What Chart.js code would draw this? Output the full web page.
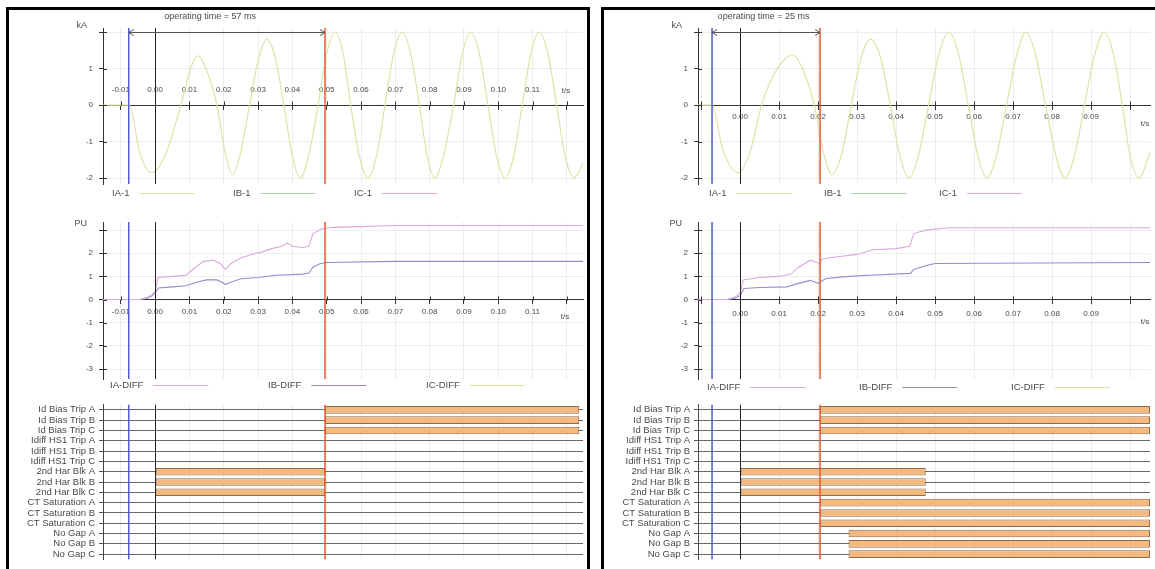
<!DOCTYPE html>
<html><head><meta charset="utf-8">
<script src="https://cdn.jsdelivr.net/npm/chart.js@4.4.0/dist/chart.umd.min.js"></script>
<style>
html,body{margin:0;padding:0;background:#fff;}
body{width:1155px;height:569px;position:relative;overflow:hidden;}
.panel{position:absolute;border:3px solid #000;box-sizing:border-box;}
canvas{position:absolute;}
</style></head><body>
<div class="panel" style="left:6px;top:7px;width:584px;height:620px;"></div>
<div class="panel" style="left:601px;top:7px;width:620px;height:620px;"></div>
<canvas id="lw" width="577" height="195" style="left:9px;top:10px"></canvas>
<canvas id="ld" width="577" height="190" style="left:9px;top:205px"></canvas>
<canvas id="lb" width="577" height="174" style="left:9px;top:395px"></canvas>
<canvas id="rw" width="551" height="195" style="left:604px;top:10px"></canvas>
<canvas id="rd" width="551" height="190" style="left:604px;top:205px"></canvas>
<canvas id="rb" width="551" height="174" style="left:604px;top:395px"></canvas>
<script>
// ---------------- DATA ----------------
const leftTitle = 'operating time = 57 ms';
const rightTitle = 'operating time = 25 ms';
const leftRange = [-0.0152, 0.1247];
const rightRange = [-0.0108, 0.1051];
const leftMarkers = [-0.0077, 0.0, 0.0495];   // fault start, t=0, trip
const rightMarkers = [-0.0072, 0.0, 0.0205];
const markerColors = ['#4f5ad6', '#222222', '#e35a34'];

const waveLabels = ['IA-1', 'IB-1', 'IC-1'];
const diffLabels = ['IA-DIFF', 'IB-DIFF', 'IC-DIFF'];

// left panel, IA-1 (kA)
const leftWaveTime = [-0.0152,-0.0075,-0.0045,-0.001,0.003,0.0075,0.0105,0.0125,0.0148,0.018,0.0205,0.0225,0.0248,0.0275,0.0302,0.0326,0.035,0.0375,0.040,0.0423,0.0447,0.0475,0.050,0.0525,0.0548,0.057,0.0595,0.062,0.0645,0.067,0.0695,0.072,0.0745,0.077,0.0793,0.0815,0.084,0.087,0.0895,0.092,0.0945,0.097,0.0995,0.102,0.1045,0.107,0.1095,0.112,0.1145,0.117,0.1195,0.122,0.1247];
const leftWaveIA   = [0,0,-1.3,-1.85,-1.35,0,1.05,1.35,1.0,0,-1.35,-1.9,-1.35,0,1.3,1.8,1.3,0,-1.4,-2.0,-1.4,0,1.4,2.0,1.4,0,-1.4,-2.0,-1.4,0,1.4,2.0,1.4,0,-1.4,-2.0,-1.4,0,1.4,2.0,1.4,0,-1.4,-2.0,-1.4,0,1.4,2.0,1.4,0,-1.4,-2.0,-1.6];
// right panel, IA-1 (kA)
const rightWaveTime = [-0.0108,-0.0072,-0.0045,-0.0005,0.0025,0.0055,0.009,0.0135,0.016,0.019,0.0215,0.0235,0.026,0.0285,0.031,0.0335,0.036,0.0385,0.041,0.0433,0.0457,0.0483,0.051,0.0535,0.056,0.0585,0.061,0.0633,0.0657,0.0683,0.071,0.0733,0.0757,0.0783,0.081,0.0833,0.0857,0.0883,0.091,0.0933,0.0957,0.098,0.1,0.1023,0.1051];
const rightWaveIA   = [0,0,-1.2,-1.85,-1.3,0,0.9,1.37,1.0,0,-1.35,-1.9,-1.35,0,1.3,1.8,1.3,0,-1.4,-2.0,-1.4,0,1.4,2.0,1.4,0,-1.4,-2.0,-1.4,0,1.4,2.0,1.4,0,-1.4,-2.0,-1.4,0,1.4,2.0,1.4,0,-1.4,-2.0,-1.3];

// left panel differential currents (PU)
const leftDiffTimeA = [-0.0152,-0.0045,-0.0025,-0.001,0.0,0.0008,0.005,0.009,0.011,0.014,0.017,0.019,0.0205,0.022,0.025,0.028,0.031,0.034,0.037,0.0385,0.040,0.043,0.0448,0.046,0.0485,0.052,0.06,0.07,0.1247];
const leftDiffIA    = [0,0,0.08,0.2,0.35,0.95,1.0,1.05,1.3,1.65,1.7,1.55,1.3,1.55,1.8,1.95,2.05,2.2,2.3,2.45,2.3,2.25,2.3,2.85,3.05,3.12,3.15,3.2,3.2];
const leftDiffTimeB = [-0.0152,-0.0045,-0.0025,-0.001,0.0,0.001,0.005,0.009,0.012,0.015,0.018,0.0195,0.0205,0.022,0.025,0.03,0.035,0.043,0.0448,0.046,0.048,0.05,0.07,0.1247];
const leftDiffIB    = [0,0,0.05,0.15,0.3,0.5,0.55,0.6,0.75,0.85,0.85,0.75,0.65,0.75,0.9,0.95,1.05,1.1,1.15,1.4,1.55,1.6,1.65,1.65];
// right panel differential currents (PU)
const rightDiffTimeA = [-0.0108,-0.0033,-0.0015,0.0,0.0008,0.005,0.01,0.013,0.015,0.018,0.0205,0.021,0.025,0.03,0.034,0.04,0.0435,0.0445,0.0476,0.054,0.1051];
const rightDiffIA    = [0,0,0.1,0.28,0.85,0.95,1.0,1.1,1.4,1.7,1.55,1.75,1.85,1.95,2.15,2.2,2.3,2.85,3.0,3.1,3.1];
const rightDiffTimeB = [-0.0108,-0.0033,-0.0015,0.0,0.001,0.005,0.012,0.015,0.018,0.02,0.022,0.028,0.033,0.0437,0.0445,0.048,0.05,0.1051];
const rightDiffIB    = [0,0,0.05,0.17,0.48,0.52,0.55,0.7,0.83,0.7,0.91,1.0,1.05,1.13,1.3,1.48,1.56,1.6];

// binary channels
const digitalLabels = ['Id Bias Trip A','Id Bias Trip B','Id Bias Trip C','Idiff HS1 Trip A','Idiff HS1 Trip B','Idiff HS1 Trip C','2nd Har Blk A','2nd Har Blk B','2nd Har Blk C','CT Saturation A','CT Saturation B','CT Saturation C','No Gap A','No Gap B','No Gap C'];
const leftDigital = [[0.0495,0.1236],[0.0495,0.1236],[0.0495,0.1236],null,null,null,[0.0,0.0495],[0.0,0.0495],[0.0,0.0495],null,null,null,null,null,null];
const rightDigital = [[0.0205,0.1051],[0.0205,0.1051],[0.0205,0.1051],null,null,null,[0.0,0.0476],[0.0,0.0476],[0.0,0.0476],[0.0205,0.1051],[0.0205,0.1051],[0.0205,0.1051],[0.0278,0.1051],[0.0278,0.1051],[0.0278,0.1051]];

const waveColors = ['#e2dea2', '#9fd0aa', '#e8a6cc'];
const diffColors = ['#dca8dc', '#8f8fcf', '#e4e09a'];

// ---------------- RENDER ----------------
const FONT = '"Liberation Sans", Arial, sans-serif';
Chart.defaults.font.family = FONT;
const TXT = '#4a4a4a';

const overlay = {
  id: 'overlay',
  afterDraw(chart, args, o) {
    const ctx = chart.ctx, a = chart.chartArea, xs = chart.scales.x, ys = chart.scales.y;
    ctx.save();
    ctx.lineWidth = 1;
    if (o.cross) {
      const ay = Math.round(ys.getPixelForValue(0)) + 0.5;
      ctx.strokeStyle = '#333';
      xs.ticks.forEach(t => {
        const px = Math.round(xs.getPixelForValue(t.value)) + 0.5;
        ctx.beginPath(); ctx.moveTo(px, ay - 4); ctx.lineTo(px, ay); ctx.stroke();
      });
      ys.ticks.forEach(t => {
        const py = Math.round(ys.getPixelForValue(t.value)) + 0.5;
        ctx.beginPath(); ctx.moveTo(a.left, py); ctx.lineTo(a.left + 4, py); ctx.stroke();
      });
    }
    (o.markers || []).forEach((t, i) => {
      const px = xs.getPixelForValue(t);
      ctx.strokeStyle = markerColors[i];
      ctx.lineWidth = i === 1 ? 1 : 1.5;
      const x = i === 1 ? Math.round(px) + 0.5 : px;
      ctx.beginPath(); ctx.moveTo(x, a.top); ctx.lineTo(x, a.bottom); ctx.stroke();
    });
    ctx.lineWidth = 1;
    ctx.fillStyle = TXT;
    if (o.bracket) {
      const b = o.bracket;
      const x1 = xs.getPixelForValue(b.from), x2 = xs.getPixelForValue(b.to);
      const y = Math.round(ys.getPixelForValue(b.y)) + 0.5;
      ctx.strokeStyle = '#555';
      ctx.beginPath(); ctx.moveTo(x1, y); ctx.lineTo(x2, y);
      ctx.moveTo(x1 + 5, y - 3); ctx.lineTo(x1, y); ctx.lineTo(x1 + 5, y + 3);
      ctx.moveTo(x2 - 5, y - 3); ctx.lineTo(x2, y); ctx.lineTo(x2 - 5, y + 3);
      ctx.stroke();
      ctx.font = '9px ' + FONT; ctx.textAlign = 'center'; ctx.textBaseline = 'middle';
      ctx.fillText(b.text, xs.getPixelForValue(b.textAt), a.top - 11);
    }
    if (o.unit) {
      const topTick = ys.ticks[ys.ticks.length - 1].value;
      ctx.font = '9px ' + FONT; ctx.textAlign = 'right'; ctx.textBaseline = 'middle';
      ctx.fillText(o.unit, a.left - 16, ys.getPixelForValue(topTick) - 7);
    }
    if (o.ts) {
      ctx.font = '8px ' + FONT; ctx.textAlign = 'center'; ctx.textBaseline = 'middle';
      ctx.fillText('t/s', a.right + o.ts.dx, ys.getPixelForValue(0) + o.ts.dy);
    }
    if (o.legend) {
      const L = o.legend;
      ctx.font = '9.5px ' + FONT; ctx.textAlign = 'left'; ctx.textBaseline = 'middle';
      chart.data.datasets.forEach((ds, i) => {
        const tx = a.left + L.x0 + i * L.step, ty = a.bottom + L.dy;
        ctx.fillStyle = TXT;
        ctx.fillText(ds.label, tx, ty);
        const w = ctx.measureText(ds.label).width;
        ctx.strokeStyle = ds.borderColor; ctx.lineWidth = 1.2;
        ctx.beginPath(); ctx.moveTo(tx + w + 10, ty + 0.5); ctx.lineTo(tx + w + 65, ty + 0.5); ctx.stroke();
      });
    }
    ctx.restore();
  }
};

function lineChart(id, c) {
  return new Chart(document.getElementById(id), {
    type: 'line',
    data: {
      datasets: c.series.map(s => ({
        label: s.label,
        data: s.t.map((t, i) => ({ x: t, y: s.v[i] })),
        borderColor: s.color, borderWidth: 1.1, pointRadius: 0, fill: false,
        cubicInterpolationMode: c.smooth ? 'monotone' : 'default', tension: 0
      }))
    },
    options: {
      responsive: false, animation: false, events: [],
      layout: { padding: c.padding },
      plugins: { legend: { display: false }, tooltip: { enabled: false }, overlay: c.overlay },
      scales: {
        x: {
          type: 'linear', min: c.range[0], max: c.range[1], position: { y: 0 },
          ticks: {
            stepSize: 0.01, includeBounds: false, autoSkip: false, maxRotation: 0,
            padding: c.tickPad, color: TXT, font: { size: 8 },
            callback: v => (c.hideX.some(h => Math.abs(v - h) < 1e-6) ? '' : Number(v).toFixed(2))
          },
          grid: { color: '#ededed', tickLength: 4, tickColor: '#333' },
          border: { color: '#333' }
        },
        y: {
          type: 'linear', min: c.yRange[0], max: c.yRange[1],
          ticks: {
            stepSize: 1, includeBounds: false, padding: 6, color: TXT, font: { size: 8 },
            callback: v => (v === c.yTop ? '' : String(v))
          },
          grid: { color: '#ededed', tickLength: 4, tickColor: '#333' },
          border: { color: '#333' },
          afterFit: s => { s.width = 94; }
        }
      }
    },
    plugins: [overlay]
  });
}

function digitalChart(id, c) {
  return new Chart(document.getElementById(id), {
    type: 'bar',
    data: {
      labels: digitalLabels,
      datasets: [{
        data: c.data, backgroundColor: '#f5b97f', borderColor: '#8a6d4e', borderWidth: 1,
        borderSkipped: false, barPercentage: 0.92, categoryPercentage: 0.8
      }]
    },
    options: {
      indexAxis: 'y', responsive: false, animation: false, events: [],
      layout: { padding: c.padding },
      plugins: { legend: { display: false }, tooltip: { enabled: false }, overlay: { markers: c.markers } },
      scales: {
        x: {
          type: 'linear', min: c.range[0], max: c.range[1], position: 'bottom',
          ticks: { display: false, stepSize: 0.01, includeBounds: false },
          grid: { color: '#ededed', drawTicks: false }, border: { display: false }
        },
        y: {
          ticks: { autoSkip: false, padding: 4, color: TXT, font: { size: 9.5 } },
          grid: { offset: false, color: '#686868', tickLength: 4, tickColor: '#555' },
          border: { color: '#444' },
          afterFit: s => { s.width = 94; }
        }
      }
    },
    plugins: [overlay]
  });
}

function mk(labels, colors, series) {
  return labels.map((l, i) => ({ label: l, color: colors[i], t: series[i] ? series[i][0] : [], v: series[i] ? series[i][1] : [] }));
}

// Left panel
lineChart('lw', {
  series: mk(waveLabels, waveColors, [[leftWaveTime, leftWaveIA]]),
  smooth: true, range: leftRange, yRange: [-2.16, 2.11], yTop: 2,
  padding: { left: 0, right: 3, top: 18, bottom: 21 }, tickPad: -24, hideX: [0.12],
  overlay: { cross: true, markers: leftMarkers, unit: 'kA',
    bracket: { from: leftMarkers[0], to: leftMarkers[2], y: 2, text: leftTitle, textAt: 0.016 },
    ts: { dx: -17, dy: -14 }, legend: { x0: 9, step: 121, dy: 9 } }
});
lineChart('ld', {
  series: mk(diffLabels, diffColors, [[leftDiffTimeA, leftDiffIA], [leftDiffTimeB, leftDiffIB]]),
  smooth: false, range: leftRange, yRange: [-3.43, 3.35], yTop: 3,
  padding: { left: 0, right: 3, top: 17, bottom: 16 }, tickPad: 3, hideX: [0.12],
  overlay: { cross: true, markers: leftMarkers, unit: 'PU', ts: { dx: -18, dy: 17 },
    legend: { x0: 7, step: 158, dy: 6 } }
});
digitalChart('lb', { data: leftDigital, range: leftRange, markers: leftMarkers,
  padding: { left: 0, right: 3, top: 5, bottom: 3 } });

// Right panel
lineChart('rw', {
  series: mk(waveLabels, waveColors, [[rightWaveTime, rightWaveIA]]),
  smooth: true, range: rightRange, yRange: [-2.16, 2.11], yTop: 2,
  padding: { left: 0, right: 5, top: 18, bottom: 21 }, tickPad: 3, hideX: [-0.01, 0.10],
  overlay: { cross: true, markers: rightMarkers, unit: 'kA',
    bracket: { from: rightMarkers[0], to: rightMarkers[2], y: 2, text: rightTitle, textAt: 0.006 },
    ts: { dx: -5, dy: 19 }, legend: { x0: 11, step: 115, dy: 9 } }
});
lineChart('rd', {
  series: mk(diffLabels, diffColors, [[rightDiffTimeA, rightDiffIA], [rightDiffTimeB, rightDiffIB]]),
  smooth: false, range: rightRange, yRange: [-3.43, 3.35], yTop: 3,
  padding: { left: 0, right: 5, top: 17, bottom: 16 }, tickPad: 5, hideX: [-0.01, 0.10],
  overlay: { cross: true, markers: rightMarkers, unit: 'PU', ts: { dx: -5, dy: 22 },
    legend: { x0: 9, step: 152, dy: 8 } }
});
digitalChart('rb', { data: rightDigital, range: rightRange, markers: rightMarkers,
  padding: { left: 0, right: 5, top: 5, bottom: 3 } });
</script>
</body></html>
